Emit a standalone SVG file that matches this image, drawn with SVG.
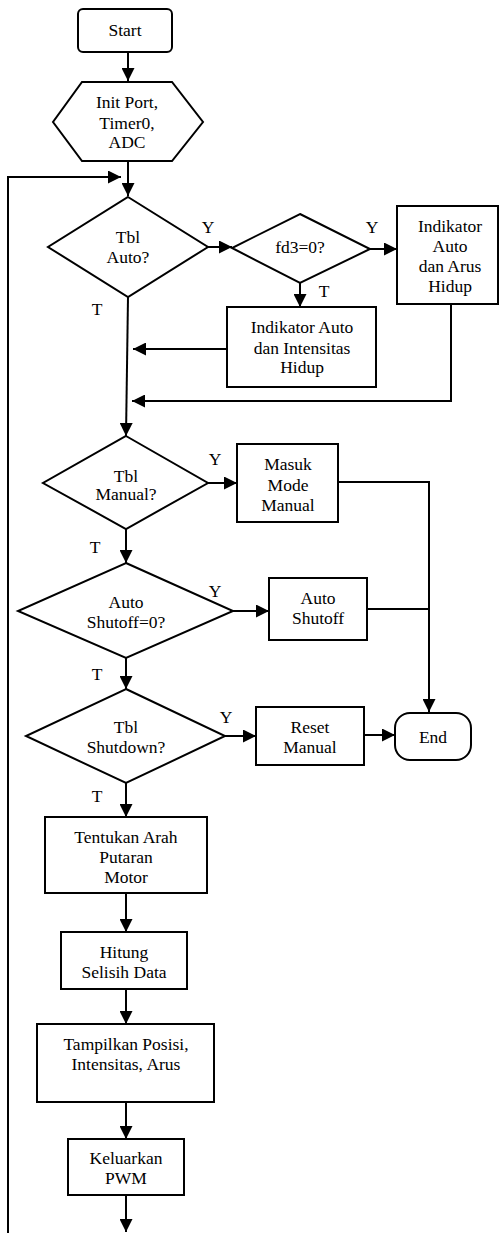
<svg xmlns="http://www.w3.org/2000/svg" width="500" height="1233" viewBox="0 0 500 1233" font-family="'Liberation Serif', 'Times New Roman', serif">
<style>
.s{fill:#fff;stroke:#000;stroke-width:2}
.c{fill:none;stroke:#000;stroke-width:2}
text{font-family:'Liberation Serif','Times New Roman',serif;font-size:17.5px;fill:#000;text-anchor:middle}
</style>
<defs>
<marker id="a" markerUnits="userSpaceOnUse" markerWidth="13" markerHeight="13" refX="13" refY="6.5" orient="auto">
<path d="M0,0 L13,6.5 L0,13 z" fill="#000"/>
</marker>
</defs>
<rect width="500" height="1233" fill="#fff"/>
<g id="connectors">
<path class="c" d="M128,52 V81" marker-end="url(#a)"/>
<path class="c" d="M128,161 V196" marker-end="url(#a)"/>
<path class="c" d="M8,1233 V177 H121" marker-end="url(#a)"/>
<path class="c" d="M208,247 H232" marker-end="url(#a)"/>
<path class="c" d="M370,249 H397" marker-end="url(#a)"/>
<path class="c" d="M300,283 V307" marker-end="url(#a)"/>
<path class="c" d="M227,349 H133" marker-end="url(#a)"/>
<path class="c" d="M451,304 V401 H132" marker-end="url(#a)"/>
<path class="c" d="M128,297 L126,436" marker-end="url(#a)"/>
<path class="c" d="M208,483 H237" marker-end="url(#a)"/>
<path class="c" d="M338,482 H429 V712" marker-end="url(#a)"/>
<path class="c" d="M126,529 V563" marker-end="url(#a)"/>
<path class="c" d="M233,611 H269" marker-end="url(#a)"/>
<path class="c" d="M367,609 H429"/>
<path class="c" d="M126,658 V689" marker-end="url(#a)"/>
<path class="c" d="M225,736 H256" marker-end="url(#a)"/>
<path class="c" d="M364,735 H395" marker-end="url(#a)"/>
<path class="c" d="M126,783 V817" marker-end="url(#a)"/>
<path class="c" d="M126,893 V932" marker-end="url(#a)"/>
<path class="c" d="M126,989 V1024" marker-end="url(#a)"/>
<path class="c" d="M126,1102 V1139" marker-end="url(#a)"/>
<path class="c" d="M126,1195 V1232" marker-end="url(#a)"/>
<text x="208" y="233">Y</text>
<text x="97" y="315">T</text>
<text x="372" y="233">Y</text>
<text x="324" y="297">T</text>
<text x="215" y="465">Y</text>
<text x="95" y="553">T</text>
<text x="215" y="597">Y</text>
<text x="97" y="680">T</text>
<text x="226" y="723">Y</text>
<text x="97" y="802">T</text>
</g>
<g id="start">
<rect class="s" x="78" y="9" width="94" height="43" rx="5"/>
<text x="125" y="36">Start</text>
</g>
<g id="init">
<polygon class="s" points="82,82 172,82 203,122 172,161 82,161 53,122"/>
<text x="127" y="108">Init Port,</text>
<text x="127" y="129">Timer0,</text>
<text x="127" y="148">ADC</text>
</g>
<g id="tblAuto">
<polygon class="s" points="128,197 208,247 128,297 48,247"/>
<text x="128" y="243">Tbl</text>
<text x="128" y="263">Auto?</text>
</g>
<g id="fd3">
<polygon class="s" points="300,214 370,249 300,283 232,248"/>
<text x="300" y="253">fd3=0?</text>
</g>
<g id="indArus">
<rect class="s" x="397" y="206" width="101" height="98"/>
<text x="450" y="232">Indikator</text>
<text x="450" y="252">Auto</text>
<text x="450" y="272">dan Arus</text>
<text x="450" y="292">Hidup</text>
</g>
<g id="indIntensitas">
<rect class="s" x="227" y="307" width="149" height="80"/>
<text x="302" y="333">Indikator Auto</text>
<text x="302" y="354">dan Intensitas</text>
<text x="302" y="373">Hidup</text>
</g>
<g id="tblManual">
<polygon class="s" points="126,436 208,483 126,529 43,483"/>
<text x="126" y="482">Tbl</text>
<text x="126" y="500">Manual?</text>
</g>
<g id="masukManual">
<rect class="s" x="237" y="444" width="101" height="78"/>
<text x="288" y="470">Masuk</text>
<text x="288" y="491">Mode</text>
<text x="288" y="511">Manual</text>
</g>
<g id="autoShutoffQ">
<polygon class="s" points="126,563 233,611 126,658 18,611"/>
<text x="126" y="608">Auto</text>
<text x="126" y="628">Shutoff=0?</text>
</g>
<g id="autoShutoff">
<rect class="s" x="269" y="578" width="98" height="62"/>
<text x="318" y="604">Auto</text>
<text x="318" y="624">Shutoff</text>
</g>
<g id="tblShutdown">
<polygon class="s" points="126,689 225,736 126,783 26,736"/>
<text x="126" y="733">Tbl</text>
<text x="126" y="753">Shutdown?</text>
</g>
<g id="resetManual">
<rect class="s" x="256" y="707" width="108" height="58"/>
<text x="310" y="733">Reset</text>
<text x="310" y="753">Manual</text>
</g>
<g id="end">
<rect class="s" x="395" y="713" width="76" height="47" rx="15"/>
<text x="433" y="743">End</text>
</g>
<g id="tentukan">
<rect class="s" x="45" y="817" width="162" height="76"/>
<text x="126" y="843">Tentukan Arah</text>
<text x="126" y="863">Putaran</text>
<text x="126" y="883">Motor</text>
</g>
<g id="hitung">
<rect class="s" x="61" y="932" width="126" height="57"/>
<text x="124" y="958">Hitung</text>
<text x="124" y="978">Selisih Data</text>
</g>
<g id="tampilkan">
<rect class="s" x="37" y="1024" width="177" height="78"/>
<text x="126" y="1050">Tampilkan Posisi,</text>
<text x="126" y="1070">Intensitas, Arus</text>
</g>
<g id="keluarkan">
<rect class="s" x="68" y="1139" width="116" height="56"/>
<text x="126" y="1164">Keluarkan</text>
<text x="126" y="1184">PWM</text>
</g>
</svg>
